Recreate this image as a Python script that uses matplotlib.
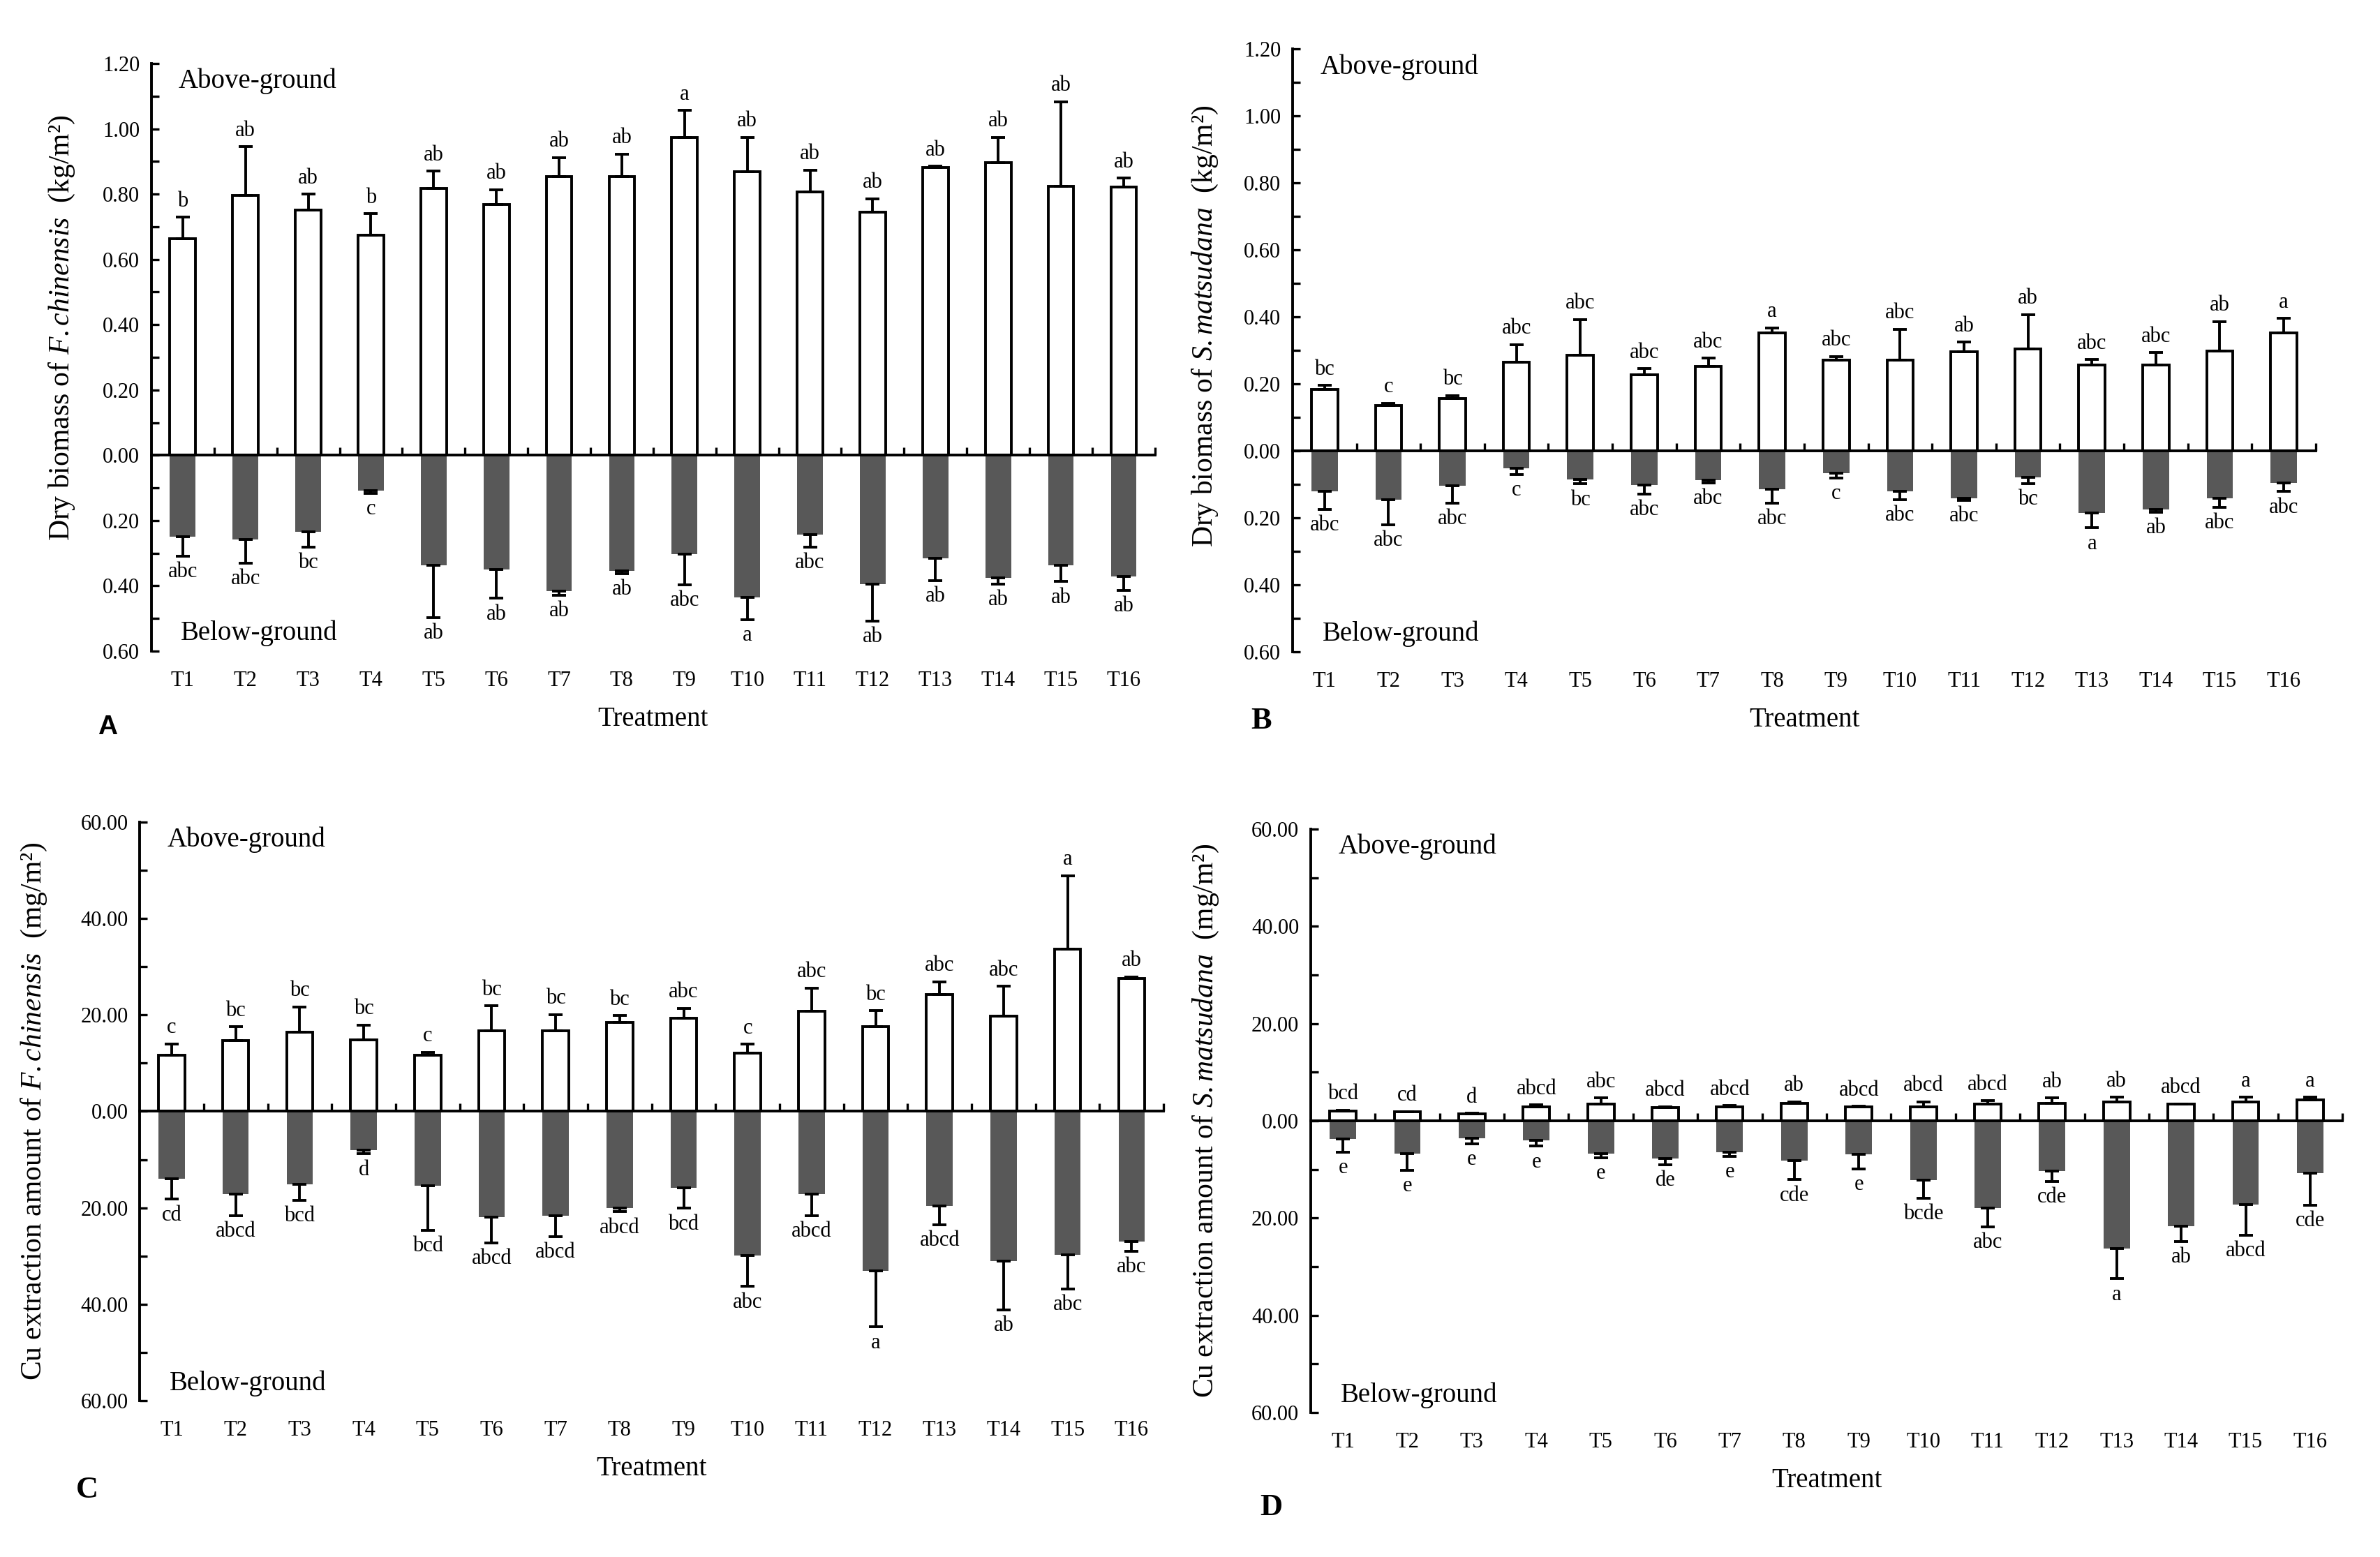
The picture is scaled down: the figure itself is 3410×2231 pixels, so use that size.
import matplotlib
matplotlib.use("Agg")
import matplotlib.pyplot as plt
from matplotlib.ticker import MultipleLocator, FuncFormatter

plt.rcParams['font.family'] = ['Liberation Serif', 'DejaVu Serif']
plt.rcParams['mathtext.fontset'] = 'custom'
plt.rcParams['mathtext.rm'] = 'Liberation Serif'
plt.rcParams['mathtext.it'] = 'Liberation Serif:italic'

cats = ['T%d' % i for i in range(1, 17)]

# panel A: dry biomass of F. chinensis (kg/m2)
A_above = [0.663, 0.797, 0.751, 0.675, 0.818, 0.769, 0.854, 0.854,
           0.974, 0.868, 0.807, 0.744, 0.882, 0.896, 0.823, 0.821]
A_above_err = [0.066, 0.149, 0.049, 0.065, 0.053, 0.045, 0.058, 0.069,
               0.082, 0.106, 0.067, 0.042, 0.004, 0.078, 0.260, 0.028]
A_below = [0.250, 0.259, 0.234, 0.108, 0.338, 0.350, 0.416, 0.355,
           0.302, 0.435, 0.243, 0.394, 0.316, 0.376, 0.337, 0.371]
A_below_err = [0.059, 0.071, 0.047, 0.009, 0.159, 0.088, 0.012, 0.007,
               0.094, 0.068, 0.038, 0.114, 0.068, 0.018, 0.050, 0.043]
A_above_sig = ['b', 'ab', 'ab', 'b', 'ab', 'ab', 'ab', 'ab',
               'a', 'ab', 'ab', 'ab', 'ab', 'ab', 'ab', 'ab']
A_below_sig = ['abc', 'abc', 'bc', 'c', 'ab', 'ab', 'ab', 'ab',
               'abc', 'a', 'abc', 'ab', 'ab', 'ab', 'ab', 'ab']

# panel B: dry biomass of S. matsudana (kg/m2)
B_above = [0.183, 0.135, 0.157, 0.265, 0.285, 0.227, 0.253, 0.352,
           0.271, 0.271, 0.295, 0.304, 0.257, 0.257, 0.298, 0.352]
B_above_err = [0.013, 0.007, 0.008, 0.052, 0.107, 0.019, 0.023, 0.015,
               0.011, 0.092, 0.029, 0.103, 0.016, 0.037, 0.088, 0.044]
B_below = [0.120, 0.146, 0.105, 0.052, 0.085, 0.103, 0.088, 0.115,
           0.066, 0.120, 0.141, 0.079, 0.185, 0.175, 0.141, 0.096]
B_below_err = [0.055, 0.074, 0.051, 0.019, 0.014, 0.026, 0.008, 0.041,
               0.015, 0.026, 0.007, 0.018, 0.045, 0.008, 0.027, 0.026]
B_above_sig = ['bc', 'c', 'bc', 'abc', 'abc', 'abc', 'abc', 'a',
               'abc', 'abc', 'ab', 'ab', 'abc', 'abc', 'ab', 'a']
B_below_sig = ['abc', 'abc', 'abc', 'c', 'bc', 'abc', 'abc', 'abc',
               'c', 'abc', 'abc', 'bc', 'a', 'ab', 'abc', 'abc']

# panel C: Cu extraction of F. chinensis (mg/m2)
C_above = [11.6, 14.7, 16.4, 14.9, 11.6, 16.7, 16.7, 18.5,
           19.3, 12.1, 20.7, 17.6, 24.3, 19.8, 33.7, 27.5]
C_above_err = [2.4, 2.9, 5.3, 3.0, 0.7, 5.2, 3.4, 1.4,
               2.1, 1.8, 4.9, 3.3, 2.6, 6.2, 15.2, 0.4]
C_below = [14.0, 17.1, 15.1, 8.0, 15.4, 22.0, 21.7, 20.1,
           15.9, 29.9, 17.1, 33.1, 19.6, 31.1, 29.7, 27.0]
C_below_err = [4.2, 4.5, 3.3, 0.8, 9.3, 5.3, 4.3, 0.7,
               4.2, 6.4, 4.5, 11.6, 3.9, 10.1, 7.1, 2.0]
C_above_sig = ['c', 'bc', 'bc', 'bc', 'c', 'bc', 'bc', 'bc',
               'abc', 'c', 'abc', 'bc', 'abc', 'abc', 'a', 'ab']
C_below_sig = ['cd', 'abcd', 'bcd', 'd', 'bcd', 'abcd', 'abcd', 'abcd',
               'bcd', 'abc', 'abcd', 'a', 'abcd', 'ab', 'abc', 'abc']

# panel D: Cu extraction of S. matsudana (mg/m2)
D_above = [2.0, 1.8, 1.5, 2.9, 3.4, 2.7, 2.9, 3.6,
           2.9, 2.9, 3.4, 3.6, 3.9, 3.4, 3.9, 4.3]
D_above_err = [0.2, 0.1, 0.1, 0.4, 1.3, 0.2, 0.2, 0.3,
               0.1, 1.0, 0.7, 1.1, 1.0, 0.1, 1.0, 0.6]
D_below = [3.8, 6.7, 3.6, 4.0, 6.7, 7.8, 6.4, 8.2,
           6.9, 12.2, 18.0, 10.3, 26.2, 21.7, 17.2, 10.8]
D_below_err = [2.6, 3.5, 1.1, 1.2, 0.9, 1.2, 0.9, 3.9,
               3.0, 3.7, 3.8, 2.2, 6.3, 3.1, 6.3, 6.5]
D_above_sig = ['bcd', 'cd', 'd', 'abcd', 'abc', 'abcd', 'abcd', 'ab',
               'abcd', 'abcd', 'abcd', 'ab', 'ab', 'abcd', 'a', 'a']
D_below_sig = ['e', 'e', 'e', 'e', 'e', 'de', 'e', 'cde',
               'e', 'bcde', 'abc', 'cde', 'a', 'ab', 'abcd', 'cde']

GRAY = '#585858'


def draw_panel(ax, above, above_err, below, below_err, above_sig, below_sig,
               ylo, yhi, major, minor, ylabel, label_xy):
    x = list(range(1, len(cats) + 1))
    neg = [-v for v in below]

    ax.bar(x, above, width=0.41, color='white', edgecolor='black',
           linewidth=1.4, zorder=2)
    ax.errorbar(x, above, yerr=[[0] * len(x), above_err], fmt='none',
                ecolor='black', elinewidth=1.4, capsize=3.5, capthick=1.4,
                zorder=3)
    ax.bar(x, neg, width=0.41, color=GRAY, edgecolor='none', zorder=2)
    ax.errorbar(x, neg, yerr=[below_err, [0] * len(x)], fmt='none',
                ecolor='black', elinewidth=1.4, capsize=3.5, capthick=1.4,
                zorder=3)

    for xi, v, e, s in zip(x, above, above_err, above_sig):
        ax.annotate(s, (xi, v + e), xytext=(0, 3), textcoords='offset points',
                    ha='center', va='bottom', fontsize=11)
    for xi, v, e, s in zip(x, neg, below_err, below_sig):
        ax.annotate(s, (xi, v - e), xytext=(0, -3), textcoords='offset points',
                    ha='center', va='top', fontsize=11)

    ax.set_xlim(0.5, 16.5)
    ax.set_ylim(-ylo, yhi)
    ax.yaxis.set_major_locator(MultipleLocator(major))
    ax.yaxis.set_minor_locator(MultipleLocator(minor))
    ax.yaxis.set_major_formatter(FuncFormatter(lambda v, p: '%.2f' % abs(v)))
    ax.tick_params(axis='y', which='both', direction='in', length=4,
                   width=1.2, labelsize=11, pad=6)

    ax.spines['top'].set_visible(False)
    ax.spines['right'].set_visible(False)
    ax.spines['left'].set_linewidth(1.4)
    ax.spines['bottom'].set_linewidth(1.4)
    ax.spines['bottom'].set_position(('data', 0))
    ax.set_xticks([i + 0.5 for i in range(1, 17)])
    ax.tick_params(axis='x', which='both', direction='in', length=4,
                   width=1.2, labelbottom=False)

    sec = ax.secondary_xaxis(0.0)
    sec.spines['bottom'].set_visible(False)
    sec.set_xticks(x)
    sec.set_xticklabels(cats)
    sec.tick_params(axis='x', length=0, pad=10, labelsize=11)
    sec.set_xlabel('Treatment', fontsize=14, labelpad=8)

    ax.text(0.027, 0.97, 'Above-ground', transform=ax.transAxes,
            fontsize=14, ha='left', va='center')
    ax.text(0.029, 0.03, 'Below-ground', transform=ax.transAxes,
            fontsize=14, ha='left', va='center')

    ax.set_ylabel(ylabel, fontsize=15)
    ax.yaxis.set_label_coords(*label_xy)


fig = plt.figure(figsize=(17.05, 11.155), dpi=200)

axA = fig.add_axes([0.0636, 0.5818, 0.4217, 0.3774])
axB = fig.add_axes([0.5431, 0.5814, 0.4299, 0.3872])
axC = fig.add_axes([0.0587, 0.1004, 0.4302, 0.3716])
axD = fig.add_axes([0.5507, 0.0928, 0.4335, 0.3747])

draw_panel(axA, A_above, A_above_err, A_below, A_below_err,
           A_above_sig, A_below_sig, 0.6, 1.2, 0.2, 0.1,
           r'Dry biomass of $\mathit{F.chinensis}$  (kg/m²)', (-0.074, 0.55))
draw_panel(axB, B_above, B_above_err, B_below, B_below_err,
           B_above_sig, B_below_sig, 0.6, 1.2, 0.2, 0.1,
           r'Dry biomass of $\mathit{S.matsudana}$  (kg/m²)', (-0.071, 0.54))
draw_panel(axC, C_above, C_above_err, C_below, C_below_err,
           C_above_sig, C_below_sig, 60, 60, 20, 10,
           r'Cu extraction amount of $\mathit{F.chinensis}$  (mg/m²)', (-0.089, 0.5))
draw_panel(axD, D_above, D_above_err, D_below, D_below_err,
           D_above_sig, D_below_sig, 60, 60, 20, 10,
           r'Cu extraction amount of $\mathit{S.matsudana}$  (mg/m²)', (-0.087, 0.5))

fig.text(0.0452, 0.533, 'A', family='Liberation Sans', weight='bold',
         fontsize=14, ha='center', va='center')
fig.text(0.530, 0.537, 'B', weight='bold', fontsize=16, ha='center', va='center')
fig.text(0.0367, 0.043, 'C', weight='bold', fontsize=16, ha='center', va='center')
fig.text(0.534, 0.032, 'D', weight='bold', fontsize=16, ha='center', va='center')

fig.savefig('out.png', dpi=200)
